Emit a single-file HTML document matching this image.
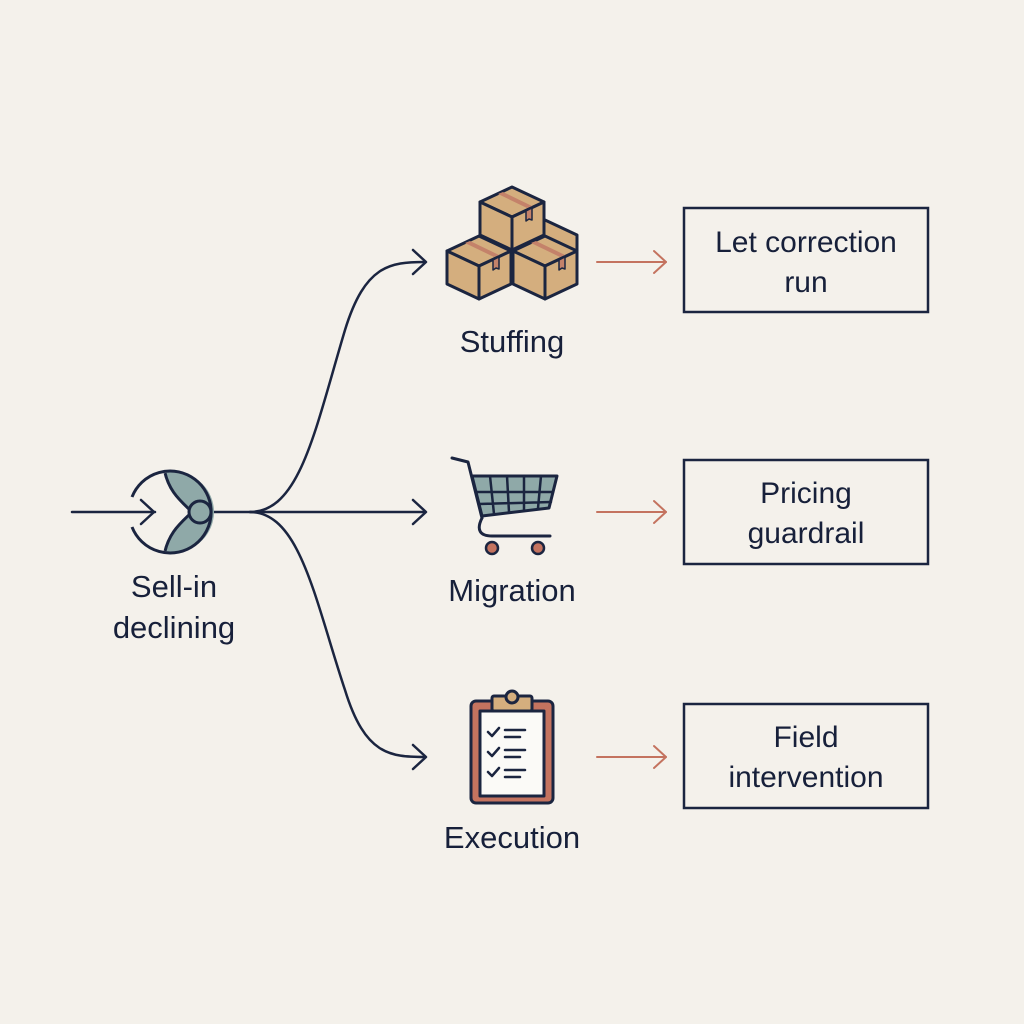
<!DOCTYPE html>
<html><head><style>
html,body{margin:0;padding:0;background:#f4f1eb;}
svg{display:block}
text{font-family:"Liberation Sans",sans-serif;fill:#17203a;}
</style></head><body>
<svg width="1024" height="1024" viewBox="0 0 1024 1024" xmlns="http://www.w3.org/2000/svg">
<defs><clipPath id="cc"><circle cx="174" cy="512" r="40"/></clipPath></defs>
<rect width="1024" height="1024" fill="#f4f1eb"/>
<g fill="none" stroke="#1b2540" stroke-width="2.5" stroke-linecap="round" stroke-linejoin="round">
 <line x1="72" y1="512" x2="155" y2="512"/>
 <polyline points="141,500 154,512 141,524"/>
 <line x1="214" y1="512" x2="425" y2="512"/>
 <polyline points="413,500 426,512 413,524"/>
 <path d="M250,512 C300,512 315,430 345,330 C365,265 390,262 425,262"/>
 <polyline points="413,250 426,262 413,274"/>
 <path d="M250,512 C300,512 315,600 345,690 C365,755 390,757 425,757"/>
 <polyline points="413,745 426,757 413,769"/>
</g>
<!-- sell-in icon -->
<g stroke="#1b2540" stroke-width="3">
 <path clip-path="url(#cc)" d="M164,468 C168,492 182,502 192,512 C182,522 168,532 164,556 L230,556 L230,468 Z" fill="#8fa9a8"/>
 <path d="M132,497 A41,41 0 1 1 132,527" fill="none"/>
 <circle cx="200" cy="512" r="11" fill="#8fa9a8"/>
</g>
<text x="174" y="597" font-size="31" text-anchor="middle">Sell-in</text>
<text x="174" y="638" font-size="31" text-anchor="middle">declining</text>
<!-- boxes -->
<g stroke="#1b2540" stroke-width="3" stroke-linejoin="round" fill="#d4ae7e">
 <g transform="translate(545,220)"><path d="M0,0 L32,15 L32,48 L0,63 L-32,48 L-32,15 Z"/></g>
 <g id="cube" transform="translate(512,187)">
  <path d="M0,0 L32,15 L0,30 L-32,15 Z"/>
  <path d="M-32,15 L0,30 L0,63 L-32,48 Z"/>
  <path d="M0,30 L32,15 L32,48 L0,63 Z"/>
  <path d="M-14,7 L15,21 L20,19 L-9,5 Z" fill="#c4826a" stroke="none"/>
  <path d="M14,24 L20,21 L20,33 L17,32 L14,34 Z" fill="#c4826a" stroke-width="1.5"/>
 </g>
 <use href="#cube" transform="translate(-33,49)"/>
 <use href="#cube" transform="translate(33,49)"/>
</g>
<text x="512" y="352" font-size="31" text-anchor="middle">Stuffing</text>
<!-- cart -->
<g stroke="#1b2540" stroke-width="3" stroke-linejoin="round" stroke-linecap="round">
 <path d="M452,458 L468,462 L482,518" fill="none"/>
 <path d="M472,476 L557,476 L549,508 L482,516 Z" fill="#8fa9a8"/>
 <path d="M476,492 L553,492 M479,504 L551,502 M490,476 L494,514 M507,476 L509,512 M524,476 L524,510 M541,476 L538,508" fill="none" stroke-width="2.5"/>
 <path d="M482,518 C476,530 480,536 492,536 L550,536" fill="none"/>
 <circle cx="492" cy="548" r="6" fill="#c4735f" stroke-width="2.5"/>
 <circle cx="538" cy="548" r="6" fill="#c4735f" stroke-width="2.5"/>
</g>
<text x="512" y="601" font-size="31" text-anchor="middle">Migration</text>
<!-- clipboard -->
<g stroke="#1b2540" stroke-width="3" stroke-linejoin="round" stroke-linecap="round">
 <rect x="471" y="701" width="82" height="102" rx="5" fill="#c4735f"/>
 <rect x="480" y="711" width="64" height="85" fill="#fbfaf7"/>
 <rect x="492" y="696" width="40" height="15" rx="2" fill="#d4ae7e"/>
 <circle cx="512" cy="697" r="6" fill="#d4ae7e"/>
 <path d="M488,732 l4,4 l7,-8 M488,752 l4,4 l7,-8 M488,772 l4,4 l7,-8 M505,730 h20 M505,737 h15 M505,750 h20 M505,757 h15 M505,770 h20 M505,777 h15" fill="none" stroke-width="2.5"/>
</g>
<text x="512" y="848" font-size="31" text-anchor="middle">Execution</text>
<!-- red arrows -->
<g fill="none" stroke="#c4735f" stroke-width="2" stroke-linecap="round" stroke-linejoin="round">
 <line x1="597" y1="262" x2="666" y2="262"/><polyline points="654,251 666,262 654,273"/>
 <line x1="597" y1="512" x2="666" y2="512"/><polyline points="654,501 666,512 654,523"/>
 <line x1="597" y1="757" x2="666" y2="757"/><polyline points="654,746 666,757 654,768"/>
</g>
<!-- result boxes -->
<g fill="none" stroke="#1b2540" stroke-width="2.5">
 <rect x="684" y="208" width="244" height="104"/>
 <rect x="684" y="460" width="244" height="104"/>
 <rect x="684" y="704" width="244" height="104"/>
</g>
<g font-size="30" text-anchor="middle">
 <text x="806" y="252">Let correction</text>
 <text x="806" y="292">run</text>
 <text x="806" y="503">Pricing</text>
 <text x="806" y="543">guardrail</text>
 <text x="806" y="747">Field</text>
 <text x="806" y="787">intervention</text>
</g>
</svg>
</body></html>
